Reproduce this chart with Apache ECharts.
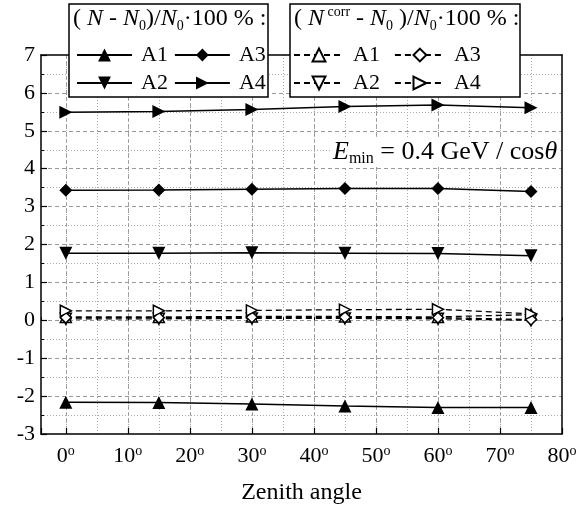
<!DOCTYPE html>
<html>
<head>
<meta charset="utf-8">
<script src="https://cdn.jsdelivr.net/npm/echarts@6/dist/echarts.min.js"></script>
<style>
  html, body { margin: 0; padding: 0; background: #fff; }
  #chart { width: 587px; height: 510px; }
</style>
</head>
<body>
<div id="chart"></div>
<script>
// zenith angles (deg)
const angles = [0, 15, 30, 45, 60, 75];
// (N - N0)/N0 * 100 %
const a1 = [-2.16, -2.17, -2.21, -2.26, -2.30, -2.30];
const a2 = [1.77, 1.77, 1.78, 1.77, 1.76, 1.70];
const a3 = [3.43, 3.44, 3.46, 3.48, 3.48, 3.40];
const a4 = [5.49, 5.51, 5.56, 5.64, 5.68, 5.61];
// (N_corr - N0)/N0 * 100 %
const a1c = [0.09, 0.09, 0.10, 0.10, 0.09, 0.15];
const a2c = [0.04, 0.04, 0.05, 0.05, 0.04, 0.00];
const a3c = [0.07, 0.07, 0.08, 0.08, 0.07, 0.02];
const a4c = [0.25, 0.25, 0.26, 0.28, 0.29, 0.17];

const xTicks = [0, 10, 20, 30, 40, 50, 60, 70, 80];

const FONT = 'Liberation Serif';

const pairs = (ys) => angles.map((x, i) => [x, ys[i]]);

const solid = (name, ys, symbol, rot) => ({
  name: name,
  type: 'line',
  data: pairs(ys),
  symbol: symbol,
  symbolRotate: rot || 0,
  symbolSize: 13,
  lineStyle: { color: '#000', width: 1.5 },
  itemStyle: { color: '#000' },
  z: 3
});

const open = (name, ys, symbol, rot) => ({
  name: name,
  type: 'line',
  data: pairs(ys),
  symbol: symbol,
  symbolRotate: rot || 0,
  symbolSize: 11,
  lineStyle: { color: '#000', width: 1.3, type: [6, 4] },
  itemStyle: { color: '#fff', borderColor: '#000', borderWidth: 1.5 },
  z: 3
});

const rich = (size) => ({
  t: { fontFamily: FONT, fontSize: size, color: '#000', lineHeight: size + 4 },
  i: { fontFamily: FONT, fontSize: size, fontStyle: 'italic', color: '#000', lineHeight: size + 4 },
  sub: { fontFamily: FONT, fontSize: Math.round(size * 0.6), color: '#000', lineHeight: 13, verticalAlign: 'bottom' },
  sup: { fontFamily: FONT, fontSize: Math.round(size * 0.6), color: '#000', lineHeight: 13, verticalAlign: 'top' }
});

let chart = echarts.init(document.getElementById('chart'));

let legendCommon = {
  orient: 'horizontal',
  padding: 0,
  itemWidth: 55,
  itemHeight: 16,
  itemGap: 6,
  width: 190,
  textStyle: { fontFamily: FONT, fontSize: 22, color: '#000', lineHeight: 21, padding: [0, 0, 0, 4] },
  selectedMode: false
};

let option = {
  animation: false,
  backgroundColor: '#fff',
  grid: { left: 41, right: 25, top: 55, bottom: 67 },
  xAxis: [
    {
      type: 'value',
      min: -4,
      max: 80,
      splitNumber: 8,
      position: 'bottom',
      axisLine: { onZero: false, lineStyle: { color: '#000', width: 1.5 } },
      axisTick: { inside: true, length: 6, lineStyle: { color: '#000', width: 1.2 } },
      axisLabel: {
        margin: 10,
        formatter: (v) => xTicks.indexOf(v) < 0 ? '' : '{v|' + v + '}{s|o}',
        rich: {
          v: { fontFamily: FONT, fontSize: 22, color: '#000', lineHeight: 24 },
          s: { fontFamily: FONT, fontSize: 14, color: '#000', lineHeight: 14, verticalAlign: 'top' }
        }
      },
      splitLine: { show: true, showMinLine: false, showMaxLine: false, lineStyle: { color: '#999', type: [4, 3], width: 1 } },
      name: 'Zenith angle',
      nameLocation: 'middle',
      nameGap: 47,
      nameTextStyle: { fontFamily: FONT, fontSize: 24, color: '#000' }
    },
    {
      type: 'value',
      min: -4,
      max: 80,
      splitNumber: 17,
      position: 'bottom',
      axisLine: { show: false },
      axisTick: { show: true, inside: true, length: 3, lineStyle: { color: '#000', width: 1 } },
      axisLabel: { show: false },
      splitLine: { show: true, showMinLine: false, showMaxLine: false, lineStyle: { color: '#aaa', type: [1, 2], width: 1 } }
    },
    {
      type: 'value',
      min: -4,
      max: 80,
      position: 'top',
      axisLine: { onZero: false, lineStyle: { color: '#000', width: 1.5 } },
      axisTick: { show: false },
      axisLabel: { show: false },
      splitLine: { show: false }
    }
  ],
  yAxis: [
    {
      type: 'value',
      min: -3,
      max: 7,
      interval: 1,
      axisLine: { show: true, onZero: false, lineStyle: { color: '#000', width: 1.5 } },
      axisTick: { show: true, inside: true, length: 6, lineStyle: { color: '#000', width: 1.2 } },
      minorTick: { show: true, splitNumber: 2, length: 3, lineStyle: { color: '#000', width: 1 } },
      axisLabel: { margin: 6, fontFamily: FONT, fontSize: 22, color: '#000' },
      splitLine: { show: true, showMinLine: false, showMaxLine: false, lineStyle: { color: '#999', type: [4, 3], width: 1 } },
      minorSplitLine: { show: true, lineStyle: { color: '#aaa', type: [1, 2], width: 1 } }
    },
    {
      type: 'value',
      min: -3,
      max: 7,
      position: 'right',
      axisLine: { show: true, onZero: false, lineStyle: { color: '#000', width: 1.5 } },
      axisTick: { show: false },
      axisLabel: { show: false },
      splitLine: { show: false }
    }
  ],
  legend: [
    Object.assign({}, legendCommon, {
      left: 76,
      top: 44,
      data: ['A1', 'A3', 'A2', 'A4']
    }),
    Object.assign({}, legendCommon, {
      left: 293,
      top: 44,
      itemWidth: 50,
      width: 200,
      textStyle: { fontFamily: FONT, fontSize: 22, color: '#000', lineHeight: 21, padding: [0, 8, 0, 4] },
      data: ['A1c', 'A3c', 'A2c', 'A4c'],
      formatter: (n) => n.replace('c', '')
    })
  ],
  graphic: [
    {
      type: 'rect', z: 3,
      shape: { x: 69, y: 4, width: 199, height: 93 },
      style: { fill: '#fff', stroke: '#000', lineWidth: 1.5 }
    },
    {
      type: 'rect', z: 3,
      shape: { x: 290, y: 4, width: 230, height: 93 },
      style: { fill: '#fff', stroke: '#000', lineWidth: 1.5 }
    },
    {
      type: 'text', z: 6, x: 73, y: 19,
      style: {
        text: '{t|( }{i|N}{t| - }{i|N}{sub|0}{t|)/}{i|N}{sub|0}{t|·100 % :}',
        rich: rich(24),
        verticalAlign: 'middle'
      }
    },
    {
      type: 'text', z: 6, x: 294, y: 19,
      style: {
        text: '{t|( }{i|N}{sup| corr}{t| - }{i|N}{sub|0}{t| )/}{i|N}{sub|0}{t|·100 % :}',
        rich: rich(24),
        verticalAlign: 'middle'
      }
    },
    {
      type: 'text', z: 6, x: 330, y: 152,
      style: {
        text: '{i|E}{sub|min}{t| = 0.4 GeV / cos}{i|θ}',
        rich: rich(26),
        verticalAlign: 'middle',
        backgroundColor: '#fff',
        padding: [0, 3, 0, 3]
      }
    }
  ],
  series: [
    solid('A1', a1, 'triangle', 0),
    solid('A2', a2, 'triangle', 180),
    solid('A3', a3, 'diamond', 0),
    solid('A4', a4, 'triangle', -90),
    open('A1c', a1c, 'triangle', 0),
    open('A2c', a2c, 'triangle', 180),
    open('A3c', a3c, 'diamond', 0),
    open('A4c', a4c, 'triangle', -90)
  ]
};

chart.setOption(option);
</script>
</body>
</html>
